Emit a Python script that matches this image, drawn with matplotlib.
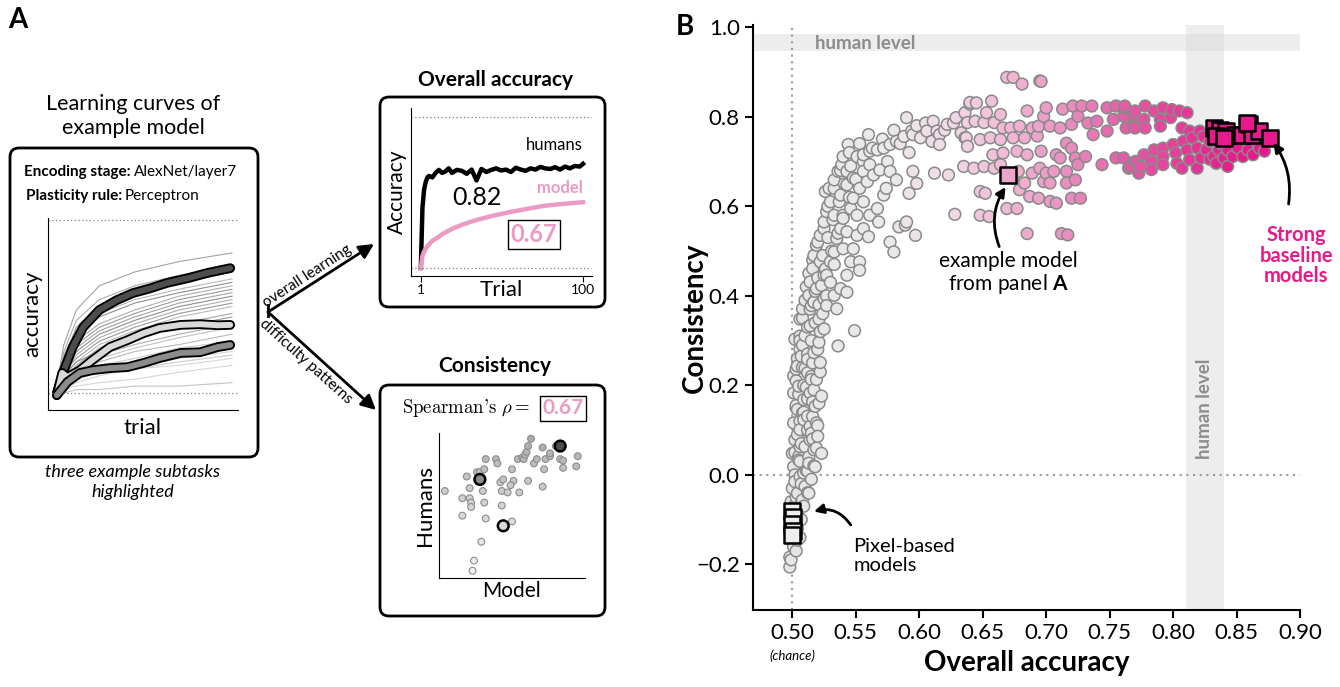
import numpy as np
import matplotlib.pyplot as plt
from matplotlib.patches import FancyBboxPatch
from matplotlib.colors import LinearSegmentedColormap

plt.rcParams['font.family'] = ['Lato', 'DejaVu Sans']
plt.rcParams['mathtext.fontset'] = 'custom'
plt.rcParams['mathtext.rm'] = 'Lato'
plt.rcParams['mathtext.bf'] = 'Lato:bold'
plt.rcParams['mathtext.it'] = 'Lato:italic'

# ---------------- panel A data ----------------
# learning curves of the example model (accuracy at a few trials)
curve_trials = [0, 5, 12, 25, 45, 70, 100]
bg_curves = [
    [0.50, 0.64, 0.74, 0.81, 0.85, 0.88, 0.905],
    [0.50, 0.62, 0.71, 0.77, 0.81, 0.84, 0.87],
    [0.50, 0.60, 0.69, 0.75, 0.79, 0.82, 0.85],
    [0.50, 0.61, 0.68, 0.73, 0.77, 0.80, 0.83],
    [0.50, 0.58, 0.66, 0.72, 0.76, 0.79, 0.82],
    [0.50, 0.59, 0.65, 0.70, 0.74, 0.78, 0.81],
    [0.50, 0.57, 0.64, 0.69, 0.73, 0.77, 0.80],
    [0.50, 0.56, 0.63, 0.68, 0.72, 0.76, 0.79],
    [0.50, 0.57, 0.62, 0.67, 0.71, 0.75, 0.78],
    [0.50, 0.55, 0.61, 0.66, 0.70, 0.74, 0.77],
    [0.50, 0.56, 0.60, 0.65, 0.69, 0.73, 0.76],
    [0.50, 0.55, 0.59, 0.64, 0.68, 0.72, 0.75],
    [0.50, 0.54, 0.58, 0.63, 0.67, 0.70, 0.73],
    [0.50, 0.55, 0.59, 0.62, 0.66, 0.69, 0.72],
    [0.50, 0.53, 0.57, 0.61, 0.64, 0.67, 0.70],
    [0.50, 0.54, 0.56, 0.60, 0.63, 0.66, 0.69],
    [0.50, 0.53, 0.56, 0.59, 0.62, 0.64, 0.67],
    [0.50, 0.52, 0.55, 0.58, 0.60, 0.63, 0.65],
    [0.50, 0.53, 0.55, 0.57, 0.59, 0.61, 0.64],
    [0.50, 0.52, 0.54, 0.56, 0.58, 0.60, 0.62],
    [0.50, 0.52, 0.54, 0.56, 0.57, 0.59, 0.61],
    [0.50, 0.51, 0.53, 0.55, 0.57, 0.58, 0.60],
    [0.50, 0.51, 0.52, 0.53, 0.54, 0.56, 0.58],
    [0.50, 0.50, 0.51, 0.51, 0.52, 0.52, 0.53],
]
bg_grays = ['0.55', '0.6', '0.5', '0.65', '0.45', '0.6', '0.5', '0.55', '0.45', '0.6',
            '0.5', '0.65', '0.55', '0.5', '0.6', '0.7', '0.65', '0.75', '0.7', '0.8',
            '0.75', '0.8', '0.8', '0.7']

dark_trials = [1, 5, 10, 16, 25, 35, 44, 54, 63, 75, 86, 99]
dark_acc = [0.50, 0.566, 0.633, 0.691, 0.740, 0.769, 0.789, 0.803, 0.818, 0.832, 0.847, 0.861]
light_trials = [1, 4, 7, 14, 21, 31, 41, 50, 59, 71, 82, 92, 99]
light_acc = [0.494, 0.558, 0.546, 0.566, 0.595, 0.633, 0.653, 0.673, 0.688, 0.697, 0.699, 0.696, 0.697]
mid_trials = [1, 7, 14, 21, 31, 41, 50, 59, 71, 82, 92, 99]
mid_acc = [0.494, 0.532, 0.558, 0.566, 0.572, 0.575, 0.587, 0.601, 0.616, 0.618, 0.633, 0.639]

# overall accuracy curves
human_trials = [1, 2, 3, 4, 5, 6, 8, 10, 12, 14, 16, 18, 20, 23, 26, 29, 32, 35, 38, 41,
                44, 47, 50, 53, 56, 59, 62, 65, 68, 71, 74, 77, 80, 83, 86, 89, 92, 95, 98, 100]
human_acc = [0.50, 0.70, 0.76, 0.785, 0.80, 0.805, 0.80, 0.815, 0.825, 0.815, 0.82, 0.83,
             0.815, 0.825, 0.822, 0.812, 0.826, 0.79, 0.828, 0.818, 0.825, 0.83, 0.823,
             0.826, 0.818, 0.832, 0.826, 0.822, 0.83, 0.826, 0.835, 0.83, 0.828, 0.834,
             0.826, 0.836, 0.83, 0.838, 0.836, 0.845]
model_trials = [1, 2, 3, 5, 8, 11, 15, 21, 28, 35, 45, 55, 65, 75, 85, 100]
model_acc = [0.50, 0.54, 0.555, 0.572, 0.59, 0.60, 0.615, 0.632, 0.647, 0.659, 0.673,
             0.685, 0.695, 0.705, 0.711, 0.718]

# per-subtask consistency (model vs humans)
sub_model = [0.04, 0.16, 0.21, 0.21, 0.22, 0.22, 0.16, 0.19, 0.26, 0.28, 0.31, 0.30, 0.31,
             0.32, 0.32, 0.39, 0.40, 0.42, 0.44, 0.43, 0.47, 0.43, 0.50, 0.29, 0.24, 0.23,
             0.50, 0.51, 0.49, 0.55, 0.54, 0.57, 0.58, 0.59, 0.60, 0.61, 0.63, 0.65, 0.67,
             0.71, 0.72, 0.71, 0.61, 0.73, 0.76, 0.76, 0.80, 0.83, 0.85, 0.85, 0.95, 0.94]
sub_human = [0.60, 0.55, 0.62, 0.55, 0.52, 0.49, 0.43, 0.70, 0.73, 0.73, 0.75, 0.60, 0.52,
             0.41, 0.82, 0.82, 0.79, 0.66, 0.68, 0.60, 0.59, 0.50, 0.39, 0.25, 0.12, 0.05,
             0.75, 0.67, 0.64, 0.59, 0.82, 0.83, 0.82, 0.85, 0.87, 0.91, 0.96, 0.79, 0.82,
             0.90, 0.75, 0.63, 0.67, 0.82, 0.84, 0.86, 0.91, 0.82, 0.81, 0.76, 0.84, 0.77]
hl_model = [0.83, 0.28, 0.44]
hl_human = [0.91, 0.68, 0.36]

# ---------------- panel B data ----------------
stem_acc = [0.517, 0.527, 0.535, 0.506, 0.514, 0.525, 0.549, 0.536, 0.506, 0.517, 0.522,
            0.504, 0.512, 0.519, 0.505, 0.514, 0.509, 0.518, 0.504, 0.512, 0.519, 0.506,
            0.515, 0.502, 0.510, 0.517, 0.523, 0.505, 0.513, 0.501, 0.509, 0.502, 0.510,
            0.504, 0.508, 0.501, 0.505, 0.501, 0.498, 0.498, 0.502, 0.510, 0.502, 0.521,
            0.512, 0.501, 0.523, 0.501, 0.515, 0.508, 0.501, 0.514, 0.506, 0.518, 0.500,
            0.506, 0.513, 0.501, 0.504, 0.515, 0.508, 0.521, 0.507, 0.511, 0.503, 0.516,
            0.509, 0.520, 0.505, 0.512, 0.500, 0.507, 0.514, 0.503, 0.510, 0.499, 0.506]
stem_cons = [0.386, 0.378, 0.371, 0.348, 0.333, 0.326, 0.322, 0.288, 0.281, 0.273, 0.251,
             0.243, 0.228, 0.213, 0.198, 0.183, 0.168, 0.153, 0.146, 0.131, 0.116, 0.101,
             0.093, 0.078, 0.063, 0.056, 0.048, 0.041, 0.026, 0.018, 0.004, -0.015, -0.026,
             -0.041, -0.056, -0.071, -0.094, -0.161, -0.184, -0.206, -0.131, 0.311, 0.303,
             0.296, 0.258, 0.221, 0.176, 0.183, 0.213, 0.138, 0.116, 0.078, 0.063, 0.018,
             0.048, -0.004, -0.041, -0.116, -0.146, 0.378, 0.371, 0.348, 0.265, 0.196,
             0.236, 0.163, 0.123, 0.086, 0.033, 0.008, -0.030, -0.062, 0.108, 0.155, 0.238,
             -0.060, 0.300]
# extra points filling the dense rising column
column_acc = [0.499, 0.503, 0.500, 0.506, 0.504, 0.507, 0.503, 0.509, 0.503, 0.512, 0.507,
              0.515, 0.502, 0.511, 0.517, 0.506, 0.513, 0.502, 0.519, 0.507, 0.516, 0.504,
              0.512, 0.520, 0.506, 0.516, 0.509, 0.503, 0.521, 0.512, 0.505, 0.517, 0.509,
              0.503, 0.515, 0.522, 0.508, 0.516, 0.504, 0.512, 0.520, 0.508, 0.515, 0.506,
              0.522, 0.512, 0.518, 0.508, 0.524, 0.514, 0.521, 0.510, 0.527, 0.518, 0.511,
              0.530, 0.520, 0.513, 0.526, 0.533, 0.516, 0.524, 0.531, 0.520, 0.528, 0.536,
              0.525, 0.532, 0.540, 0.528, 0.537, 0.545, 0.533, 0.541, 0.550, 0.538, 0.546,
              0.556, 0.545, 0.563, 0.553, 0.571, 0.560, 0.580, 0.598, 0.611, 0.585, 0.592,
              0.575, 0.620]
column_cons = [-0.19, -0.17, -0.15, -0.14, -0.12, -0.10, -0.09, -0.07, -0.05, -0.04, -0.02,
               -0.01, 0.00, 0.01, 0.02, 0.03, 0.04, 0.05, 0.06, 0.07, 0.08, 0.09, 0.10, 0.11,
               0.12, 0.13, 0.14, 0.15, 0.16, 0.17, 0.18, 0.19, 0.20, 0.21, 0.22, 0.23, 0.24,
               0.25, 0.26, 0.27, 0.28, 0.29, 0.30, 0.31, 0.32, 0.33, 0.34, 0.35, 0.36, 0.37,
               0.38, 0.39, 0.40, 0.41, 0.42, 0.43, 0.44, 0.45, 0.46, 0.47, 0.48, 0.49, 0.50,
               0.52, 0.53, 0.54, 0.55, 0.57, 0.58, 0.60, 0.61, 0.62, 0.64, 0.65, 0.66, 0.68,
               0.69, 0.70, 0.72, 0.73, 0.74, 0.75, 0.76, 0.77, 0.78, 0.79, 0.74, 0.72, 0.70,
               0.77]
arc_acc = [0.590, 0.605, 0.614, 0.622, 0.627, 0.616, 0.610, 0.601, 0.595, 0.588, 0.582,
           0.577, 0.572, 0.567, 0.561, 0.556, 0.551, 0.544, 0.540, 0.539, 0.536, 0.533,
           0.529, 0.526, 0.530, 0.527, 0.525, 0.522, 0.519, 0.517, 0.516, 0.514, 0.513,
           0.517, 0.525, 0.533, 0.538, 0.543, 0.546, 0.553, 0.553, 0.548, 0.551, 0.556,
           0.560, 0.561, 0.567, 0.568, 0.572, 0.574, 0.582, 0.577, 0.569, 0.564, 0.559,
           0.553, 0.548, 0.546, 0.540, 0.538, 0.535, 0.533, 0.530, 0.527, 0.523, 0.584,
           0.589, 0.590, 0.597, 0.577, 0.580, 0.592, 0.595, 0.598, 0.612, 0.623, 0.628,
           0.616, 0.637, 0.633, 0.629, 0.640, 0.645, 0.606, 0.594, 0.543, 0.548, 0.556,
           0.561, 0.543, 0.538, 0.543, 0.533, 0.551, 0.556, 0.522, 0.525, 0.519, 0.540,
           0.543]
arc_cons = [0.798, 0.786, 0.768, 0.783, 0.786, 0.760, 0.745, 0.753, 0.760, 0.756, 0.745,
            0.738, 0.730, 0.726, 0.723, 0.715, 0.711, 0.738, 0.711, 0.693, 0.678, 0.659,
            0.640, 0.633, 0.610, 0.588, 0.565, 0.535, 0.513, 0.490, 0.461, 0.431, 0.401,
            0.386, 0.393, 0.401, 0.416, 0.446, 0.476, 0.476, 0.457, 0.505, 0.535, 0.550,
            0.532, 0.580, 0.595, 0.565, 0.625, 0.640, 0.659, 0.678, 0.681, 0.670, 0.655,
            0.640, 0.618, 0.595, 0.573, 0.550, 0.528, 0.498, 0.476, 0.446, 0.423, 0.554,
            0.558, 0.565, 0.535, 0.520, 0.498, 0.629, 0.678, 0.651, 0.674, 0.670, 0.582,
            0.738, 0.753, 0.764, 0.798, 0.828, 0.831, 0.768, 0.768, 0.678, 0.663, 0.678,
            0.693, 0.648, 0.625, 0.543, 0.580, 0.580, 0.610, 0.476, 0.446, 0.416, 0.505,
            0.408]
mid_acc_pts = [0.669, 0.674, 0.681, 0.695, 0.696, 0.640, 0.657, 0.653, 0.664, 0.636, 0.638,
               0.644, 0.651, 0.659, 0.666, 0.672, 0.679, 0.685, 0.689, 0.694, 0.700, 0.698,
               0.703, 0.711, 0.713, 0.721, 0.728, 0.736, 0.725, 0.720, 0.733, 0.740, 0.748,
               0.755, 0.762, 0.769, 0.753, 0.763, 0.770, 0.748, 0.737, 0.636, 0.648, 0.656,
               0.664, 0.674, 0.683, 0.693, 0.638, 0.658, 0.666, 0.677, 0.685, 0.696, 0.708,
               0.716, 0.720, 0.711, 0.723, 0.731, 0.725, 0.744, 0.755, 0.766, 0.771, 0.635,
               0.643, 0.651, 0.659, 0.664, 0.678, 0.689, 0.695, 0.700, 0.706, 0.716, 0.674,
               0.683, 0.698, 0.703, 0.716, 0.723, 0.679, 0.687, 0.694, 0.703, 0.708, 0.720,
               0.727, 0.648, 0.652, 0.669, 0.677, 0.648, 0.655, 0.685, 0.712, 0.717]
mid_cons_pts = [0.888, 0.888, 0.873, 0.880, 0.879, 0.832, 0.835, 0.809, 0.805, 0.809, 0.787,
                0.790, 0.787, 0.787, 0.775, 0.775, 0.779, 0.813, 0.775, 0.779, 0.820, 0.801,
                0.779, 0.775, 0.817, 0.824, 0.824, 0.824, 0.801, 0.783, 0.786, 0.790, 0.820,
                0.824, 0.820, 0.809, 0.794, 0.775, 0.775, 0.768, 0.760, 0.753, 0.749, 0.753,
                0.749, 0.753, 0.753, 0.757, 0.734, 0.715, 0.719, 0.723, 0.715, 0.723, 0.715,
                0.741, 0.730, 0.708, 0.708, 0.711, 0.693, 0.693, 0.708, 0.689, 0.700, 0.689,
                0.685, 0.689, 0.685, 0.693, 0.678, 0.674, 0.685, 0.674, 0.678, 0.678, 0.663,
                0.652, 0.655, 0.652, 0.652, 0.659, 0.637, 0.622, 0.618, 0.611, 0.607, 0.618,
                0.618, 0.633, 0.629, 0.595, 0.595, 0.580, 0.577, 0.539, 0.539, 0.536]
top_acc = [0.762, 0.770, 0.778, 0.785, 0.792, 0.799, 0.805, 0.811, 0.761, 0.769, 0.777,
           0.790, 0.798, 0.807, 0.813, 0.821, 0.790, 0.778, 0.769, 0.761, 0.770, 0.777,
           0.785, 0.792, 0.800, 0.808, 0.815, 0.824, 0.829, 0.765, 0.774, 0.783, 0.792,
           0.802, 0.811, 0.819, 0.826, 0.836, 0.843, 0.851, 0.859, 0.868, 0.872, 0.792,
           0.803, 0.813, 0.822, 0.832, 0.840, 0.847, 0.855, 0.863, 0.843, 0.834, 0.807,
           0.819, 0.783, 0.773, 0.838, 0.850, 0.866, 0.829]
top_cons = [0.824, 0.813, 0.824, 0.813, 0.820, 0.816, 0.813, 0.809, 0.801, 0.798, 0.794,
            0.794, 0.798, 0.775, 0.768, 0.768, 0.779, 0.775, 0.779, 0.708, 0.700, 0.715,
            0.726, 0.730, 0.738, 0.745, 0.753, 0.756, 0.745, 0.685, 0.689, 0.700, 0.711,
            0.719, 0.726, 0.730, 0.726, 0.726, 0.726, 0.730, 0.726, 0.730, 0.723, 0.693,
            0.696, 0.704, 0.708, 0.711, 0.708, 0.711, 0.711, 0.715, 0.689, 0.696, 0.685,
            0.685, 0.682, 0.674, 0.740, 0.745, 0.742, 0.705]

strong_acc = [0.832, 0.837, 0.842, 0.849, 0.854, 0.860, 0.862, 0.868, 0.876, 0.834, 0.840, 0.858]
strong_cons = [0.775, 0.771, 0.768, 0.760, 0.760, 0.783, 0.760, 0.768, 0.753, 0.756, 0.753, 0.786]
pixel_acc = [0.4995, 0.5005, 0.4995, 0.5005, 0.4995]
pixel_cons = [-0.080, -0.095, -0.110, -0.125, -0.135]
example_acc = 0.670
example_cons = 0.670

W, H = 1340, 687
fig = plt.figure(figsize=(13.4, 6.87), dpi=100)
renderer = fig.canvas.get_renderer()


def px_axes(l, t, r, b):
    return fig.add_axes([l / W, 1 - b / H, (r - l) / W, (b - t) / H])


# overlay in pixel units for the panel A boxes/arrows
ov = fig.add_axes([0, 0, 1, 1])
ov.set_xlim(0, W)
ov.set_ylim(H, 0)
ov.axis('off')


def bold_then_plain(x, y, bold, plain, size):
    t = ov.text(x, y, bold, fontsize=size, fontweight='bold', va='center')
    x1 = ov.transData.inverted().transform(t.get_window_extent(renderer))[1][0]
    ov.text(x1 + 3, y, plain, fontsize=size, va='center')


for (x0, y0, w, h) in [(10, 148, 248, 309), (380, 97, 225, 210), (380, 385, 225, 231)]:
    ov.add_patch(FancyBboxPatch((x0, y0), w, h, boxstyle='round,pad=0,rounding_size=9',
                                fc='none', ec='black', lw=2))

fig.text(8 / W, 1 - 20 / H, 'A', fontsize=20, fontweight='bold', va='center')
fig.text(676 / W, 1 - 27 / H, 'B', fontsize=20, fontweight='bold', va='center')

ov.text(133, 116, 'Learning curves of\nexample model', ha='center', va='center',
        fontsize=15.5, linespacing=1.2)
bold_then_plain(24, 172, 'Encoding stage:', 'AlexNet/layer7', 11)
bold_then_plain(26, 196, 'Plasticity rule:', 'Perceptron', 11)
ov.text(133, 482, 'three example subtasks\nhighlighted', ha='center', va='center',
        fontsize=13, style='italic', linespacing=1.25)
ov.text(495, 80, 'Overall accuracy', ha='center', va='center', fontsize=15, fontweight='bold')
ov.text(495, 366, 'Consistency', ha='center', va='center', fontsize=15, fontweight='bold')

# branching arrows
ov.plot([268, 268], [305, 316], color='black', lw=2)
ov.annotate('', xy=(374, 244), xytext=(268, 312),
            arrowprops=dict(arrowstyle='-|>', lw=2, color='black', mutation_scale=22,
                            shrinkA=0, shrinkB=0))
ov.annotate('', xy=(376, 410), xytext=(268, 312),
            arrowprops=dict(arrowstyle='-|>', lw=2, color='black', mutation_scale=22,
                            shrinkA=0, shrinkB=0))
ov.text(307, 276, 'overall learning', rotation=33, ha='center', va='center', fontsize=11)
ov.text(306, 362, 'difficulty patterns', rotation=-42, ha='center', va='center', fontsize=11)

# ---- A1: learning curves ----
a1 = px_axes(48, 218, 238, 410)
a1.patch.set_alpha(0)
for vals, g in zip(bg_curves, bg_grays):
    a1.plot(curve_trials, vals, color=g, lw=0.8, alpha=0.8)
for tr, ac, fc in [(dark_trials, dark_acc, '0.3'), (light_trials, light_acc, '0.85'),
                   (mid_trials, mid_acc, '0.55')]:
    a1.plot(tr, ac, color='black', lw=7, solid_capstyle='round', solid_joinstyle='round')
    a1.plot(tr, ac, color=fc, lw=4.3, solid_capstyle='round', solid_joinstyle='round')
a1.axhline(1.0, color='0.5', ls=(0, (1, 2)), lw=0.9)
a1.axhline(0.5, color='0.5', ls=(0, (1, 2)), lw=0.9)
a1.set_xlim(-4, 103.4)
a1.set_ylim(0.451, 1.006)
a1.set_xticks([])
a1.set_yticks([])
for s in ['top', 'right']:
    a1.spines[s].set_visible(False)
a1.set_xlabel('trial', fontsize=16, labelpad=6)
a1.set_ylabel('accuracy', fontsize=16, labelpad=4)

# ---- A2: overall accuracy ----
a2 = px_axes(411, 108, 592, 276)
a2.patch.set_alpha(0)
a2.plot(human_trials, human_acc, color='black', lw=3.2)
a2.plot(model_trials, model_acc, color='#eb9ac6', lw=3.2)
a2.axhline(1.0, color='0.5', ls=(0, (1, 2)), lw=0.9)
a2.axhline(0.5, color='0.5', ls=(0, (1, 2)), lw=0.9)
a2.set_xlim(-5, 105.5)
a2.set_ylim(0.4735, 1.03)
a2.set_xticks([1, 100])
a2.set_xticklabels(['1', '100'], fontsize=10)
a2.tick_params(axis='x', length=4, pad=2)
a2.set_yticks([])
for s in ['top', 'right']:
    a2.spines[s].set_visible(False)
a2.set_xlabel('Trial', fontsize=16, labelpad=-12)
a2.set_ylabel('Accuracy', fontsize=15, labelpad=3)
a2.text(100, 0.88, 'humans', ha='right', va='bottom', fontsize=12)
a2.text(100, 0.74, 'model', ha='right', va='bottom', fontsize=12, fontweight='bold',
        color='#eb9ac6')
a2.text(35, 0.735, '0.82', ha='center', va='center', fontsize=18)
a2.text(70, 0.61, '0.67', ha='center', va='center', fontsize=17, fontweight='bold',
        color='#eb9ac6', bbox=dict(boxstyle='square,pad=0.12', fc='white', ec='black', lw=1))

# ---- A3: consistency ----
a3 = px_axes(439, 433, 585, 578)
a3.patch.set_alpha(0)
a3.scatter(sub_model, sub_human, s=24, c=[plt.cm.Greys(0.1 + 0.35 * h) for h in sub_human],
           edgecolors='0.55', linewidths=0.8)
a3.scatter(hl_model, hl_human, s=60, c=['0.3', '0.55', '0.85'], edgecolors='black',
           linewidths=1.8, zorder=3)
a3.set_xlim(0, 1)
a3.set_ylim(0, 1)
a3.set_xticks([])
a3.set_yticks([])
for s in ['top', 'right']:
    a3.spines[s].set_visible(False)
a3.set_xlabel('Model', fontsize=15, labelpad=2)
a3.set_ylabel('Humans', fontsize=16, labelpad=3)
ov.text(402, 408, r"$\text{Spearman's}\ \rho =$", fontsize=13.5, va='center',
        math_fontfamily='cm')
ov.text(563, 408, '0.67', fontsize=15, va='center', ha='center', fontweight='bold',
        color='#eb9ac6', bbox=dict(boxstyle='square,pad=0.12', fc='white', ec='black', lw=1))

# ---------------- panel B ----------------
ax = px_axes(753, 25, 1300, 610)
cmap = LinearSegmentedColormap.from_list('acc', [(0.0, '#e6e6e6'), (0.2, '#eaeaea'),
                                                 (0.35, '#f1dae6'), (0.5, '#efb5d3'),
                                                 (0.62, '#e88fc0'), (0.75, '#e45ca6'),
                                                 (1.0, '#e8198b')])
all_acc = np.array(column_acc + stem_acc + arc_acc + mid_acc_pts + top_acc)
all_cons = np.array(column_cons + stem_cons + arc_cons + mid_cons_pts + top_cons)
order = np.argsort(all_acc, kind='stable')
ax.axvspan(0.81, 0.84, color='#d9d9d9', alpha=0.45, lw=0, zorder=0)
ax.axhspan(0.946, 0.984, color='#d9d9d9', alpha=0.45, lw=0, zorder=0)
ax.axvline(0.5, color='0.6', ls=(0, (1, 2.2)), lw=1.5, zorder=1)
ax.axhline(0.0, color='0.6', ls=(0, (1, 2.2)), lw=1.5, zorder=1)
ax.scatter(all_acc[order], all_cons[order], s=72,
           c=cmap(np.clip((all_acc[order] - 0.5) / 0.35, 0, 1)),
           edgecolors='#8a8a8a', linewidths=1.1, zorder=2)
ax.scatter(pixel_acc, pixel_cons, marker='s', s=120, c='#eeeeee', edgecolors='black',
           linewidths=1.8, zorder=3)
ax.scatter(strong_acc, strong_cons, marker='s', s=125, c='#e8198b', edgecolors='black',
           linewidths=1.8, zorder=3)
ax.scatter([example_acc], [example_cons], marker='s', s=130, c='#eda5cb',
           edgecolors='black', linewidths=1.8, zorder=3)

ax.set_xlim(0.469, 0.90)
ax.set_ylim(-0.302, 1.005)
ax.set_xticks(np.arange(0.50, 0.901, 0.05))
ax.set_xticklabels([f'{v:.2f}' for v in np.arange(0.50, 0.901, 0.05)])
ax.set_yticks(np.arange(-0.2, 1.01, 0.2))
ax.set_yticklabels([f'{v:.1f}'.replace('-', '\u2212') for v in np.arange(-0.2, 1.01, 0.2)])
ax.tick_params(labelsize=16, length=6, width=1.5)
for s in ['top', 'right']:
    ax.spines[s].set_visible(False)
for s in ['left', 'bottom']:
    ax.spines[s].set_linewidth(1.5)
ax.set_xlabel('Overall accuracy', fontsize=20, fontweight='bold')
ax.xaxis.set_label_coords(0.5, -0.068)
ax.set_ylabel('Consistency', fontsize=20, fontweight='bold')
ax.yaxis.set_label_coords(-0.082, 0.5)
ax.xaxis.label.set_va('top')
ax.text(0.5, -0.079, '(chance)', transform=ax.get_xaxis_transform(), ha='center',
        va='center', fontsize=9.5, style='italic')

ax.text(0.518, 0.963, 'human level', fontsize=13.5, fontweight='bold', color='#8c8c8c',
        va='center')
ax.text(0.825, 0.147, 'human level', fontsize=13.5, fontweight='bold', color='#8c8c8c',
        va='center', ha='center', rotation=90)

ax.text(0.670, 0.45, 'example model\nfrom panel $\\mathbf{A}$', ha='center', va='center',
        fontsize=15, linespacing=1.1)
ax.annotate('', xy=(0.668, 0.643), xytext=(0.663, 0.51),
            arrowprops=dict(arrowstyle='-|>', lw=2, color='black', mutation_scale=14,
                            connectionstyle='arc3,rad=-0.25', shrinkA=0, shrinkB=0))
ax.text(0.548, -0.182, 'Pixel-based\nmodels', ha='left', va='center', fontsize=14.5,
        linespacing=1.15)
ax.annotate('', xy=(0.517, -0.082), xytext=(0.546, -0.112),
            arrowprops=dict(arrowstyle='-|>', lw=2, color='black', mutation_scale=14,
                            connectionstyle='arc3,rad=0.35', shrinkA=0, shrinkB=0))
ax.text(0.897, 0.49, 'Strong\nbaseline\nmodels', ha='center', va='center', fontsize=14.5,
        fontweight='bold', color='#e8198b', linespacing=1.05)
ax.annotate('', xy=(0.879, 0.742), xytext=(0.891, 0.605),
            arrowprops=dict(arrowstyle='-|>', lw=2, color='black', mutation_scale=14,
                            connectionstyle='arc3,rad=0.2', shrinkA=0, shrinkB=0))

fig.savefig('out.png', dpi=100)
